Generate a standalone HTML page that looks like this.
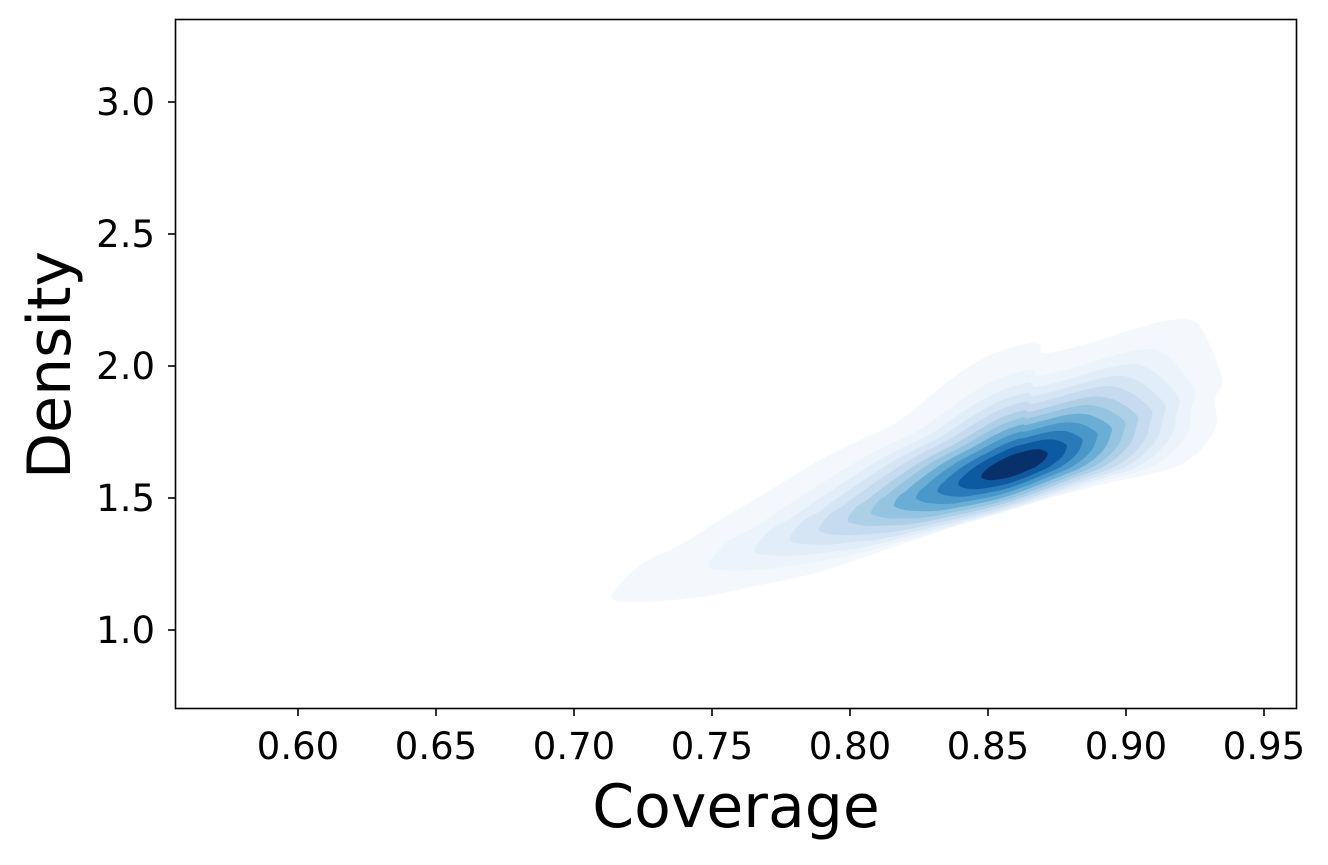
<!DOCTYPE html>
<html><head><meta charset="utf-8"><style>
html,body{margin:0;padding:0;background:#fff;}
svg text{font-family:"DejaVu Sans","Liberation Sans",sans-serif;fill:#000;}
</style></head><body>
<svg id="chart" width="1328" height="860" viewBox="0 0 1328 860" xmlns="http://www.w3.org/2000/svg">
<rect x="0" y="0" width="1328" height="860" fill="#fff"/>
<g id="fills"></g>
<rect x="175.5" y="19.5" width="1121" height="689" fill="none" stroke="#000" stroke-width="1.6"/>
<g id="xt"></g>
<g id="yt"></g>
<text x="736" y="827" font-size="60" text-anchor="middle">Coverage</text>
<text transform="translate(70,365) rotate(-90)" font-size="60" text-anchor="middle">Density</text>
</svg>
<script>
const xTicks=[0.60,0.65,0.70,0.75,0.80,0.85,0.90,0.95];
const yTicks=[1.0,1.5,2.0,2.5,3.0];
const outerCov=[0.7138,0.7239,0.7457,0.7674,0.7891,0.8181,0.8543,0.8906,0.9196,0.9322,0.9322,0.9348,0.9304,0.9250,0.9159,0.9014,0.8870,0.8707,0.8688,0.8652,0.8507,0.8362,0.8181,0.8036,0.7891,0.7710,0.7529,0.7384,0.7239];
const outerDen=[1.125,1.106,1.125,1.170,1.220,1.322,1.447,1.549,1.625,1.758,1.871,1.947,2.080,2.167,2.174,2.136,2.087,2.049,2.080,2.087,2.042,1.947,1.795,1.720,1.644,1.530,1.417,1.322,1.246];
const peak=[0.860,1.625];
const levelScale=[1,0.8,0.7,0.62,0.55,0.48,0.42,0.36,0.3,0.24,0.18,0.11];
const levelColor=["#f4f8fd","#ebf3fb","#e1edf8","#d5e5f4","#c6dbef","#add0e6","#94c4df","#6aaed6","#4a98c9","#2a7ab9","#0e5aa0","#08306b"];
const X=v=>298+(v-0.60)*2760;
const Y=v=>630-(v-1.0)*264;
const ns="http://www.w3.org/2000/svg";
function smoothPath(pts){
  const n=pts.length;let d="M"+pts[0][0].toFixed(1)+","+pts[0][1].toFixed(1);
  for(let i=0;i<n;i++){
    const p0=pts[(i-1+n)%n],p1=pts[i],p2=pts[(i+1)%n],p3=pts[(i+2)%n];
    const c1=[p1[0]+(p2[0]-p0[0])/6,p1[1]+(p2[1]-p0[1])/6];
    const c2=[p2[0]-(p3[0]-p1[0])/6,p2[1]-(p3[1]-p1[1])/6];
    d+="C"+c1[0].toFixed(1)+","+c1[1].toFixed(1)+" "+c2[0].toFixed(1)+","+c2[1].toFixed(1)+" "+p2[0].toFixed(1)+","+p2[1].toFixed(1);
  }
  return d+"Z";
}
const fills=document.getElementById("fills");
const cx=X(peak[0]),cy=Y(peak[1]);
levelScale.forEach((s,k)=>{
  const w=1-s;
  const pts=outerCov.map((c,i)=>{
    const px=X(c)-cx,py=Y(outerDen[i])-cy;
    const ang=Math.atan2(py,px);const rp=Math.hypot(px,py);
    const rot=-0.36,ca=Math.cos(ang-rot),sa=Math.sin(ang-rot);
    const a=320,b=95;const re=1/Math.sqrt(ca*ca/(a*a)+sa*sa/(b*b));
    const r=s*((1-w)*rp+w*re);
    return [cx+r*Math.cos(ang),cy+r*Math.sin(ang)];
  });
  const p=document.createElementNS(ns,"path");
  p.setAttribute("d",smoothPath(pts));
  p.setAttribute("fill",levelColor[k]);
  
  
  fills.appendChild(p);
});
const xt=document.getElementById("xt");
xTicks.forEach(v=>{
  const l=document.createElementNS(ns,"line");
  l.setAttribute("x1",X(v));l.setAttribute("x2",X(v));l.setAttribute("y1",709);l.setAttribute("y2",716);
  l.setAttribute("stroke","#000");l.setAttribute("stroke-width","1.6");
  
  
  xt.appendChild(l);
  const t=document.createElementNS(ns,"text");
  t.setAttribute("x",X(v));t.setAttribute("y",759);t.setAttribute("font-size","37");t.setAttribute("text-anchor","middle");
  t.textContent=v.toFixed(2);
  
  
  xt.appendChild(t);
});
const yt=document.getElementById("yt");
yTicks.forEach(v=>{
  const l=document.createElementNS(ns,"line");
  l.setAttribute("x1",168);l.setAttribute("x2",175);l.setAttribute("y1",Y(v));l.setAttribute("y2",Y(v));
  l.setAttribute("stroke","#000");l.setAttribute("stroke-width","1.6");
  
  
  yt.appendChild(l);
  const t=document.createElementNS(ns,"text");
  t.setAttribute("x",155);t.setAttribute("y",Y(v)+13);t.setAttribute("font-size","37");t.setAttribute("text-anchor","end");
  t.textContent=v.toFixed(1);
  
  
  yt.appendChild(t);
});
</script>
</body></html>
